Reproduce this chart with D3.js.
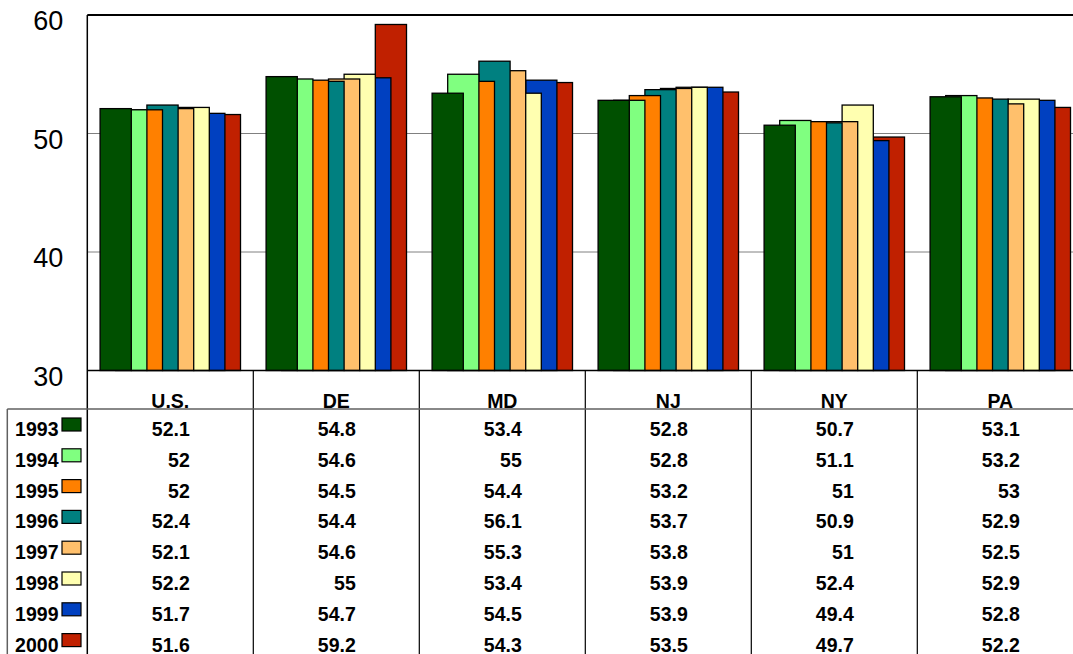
<html>
  <head>
    <meta charset="utf-8">
    <script src="https://d3js.org/d3.v7.min.js"></script>
    <style type="text/css">
      body { margin: 0; background: #fff; }
      svg text { font-family: Arial, "Liberation Sans", sans-serif; fill: #000; }
    </style>
  </head>
  <body>
    <svg id="chart" width="1073" height="654"></svg>
    <script>
      // data
      var states = ["U.S.", "DE", "MD", "NJ", "NY", "PA"];
      var years = ["1993", "1994", "1995", "1996", "1997", "1998", "1999", "2000"];
      var yearColors = ["#005000", "#80ff80", "#ff8000", "#008080", "#ffc06c", "#ffffb0", "#0040c0", "#c02000"];
      var v1993 = [52.1, 54.8, 53.4, 52.8, 50.7, 53.1];
      var v1994 = [52, 54.6, 55, 52.8, 51.1, 53.2];
      var v1995 = [52, 54.5, 54.4, 53.2, 51, 53];
      var v1996 = [52.4, 54.4, 56.1, 53.7, 50.9, 52.9];
      var v1997 = [52.1, 54.6, 55.3, 53.8, 51, 52.5];
      var v1998 = [52.2, 55, 53.4, 53.9, 52.4, 52.9];
      var v1999 = [51.7, 54.7, 54.5, 53.9, 49.4, 52.8];
      var v2000 = [51.6, 59.2, 54.3, 53.5, 49.7, 52.2];
      var yTicks = [30, 40, 50, 60];

      var series = [v1993, v1994, v1995, v1996, v1997, v1998, v1999, v2000];

      var W = 1073, H = 654;
      var plotL = 87.3, plotR = 1083.3, plotT = 15, plotB = 370.5;

      var svg = d3.select("#chart");

      var x = d3.scaleBand().domain(states).range([plotL, plotR]).padding(0);
      var y = d3.scaleLinear().domain([30, 60]).range([plotB, plotT]);

      // each bar is two "units" wide, overlapping the next by one unit
      var bw = x.bandwidth();
      var u = bw / (9 + 2 * 0.82);
      var gap = 0.82 * u;

      // gridlines
      svg.append("g").selectAll("line")
        .data([40, 50])
        .enter().append("line")
        .attr("x1", plotL).attr("x2", plotR)
        .attr("y1", function(d) { return y(d); })
        .attr("y2", function(d) { return y(d); })
        .attr("stroke", "#808080")
        .attr("stroke-width", 1);

      // bars: later years drawn first so earlier ones sit in front
      var barG = svg.append("g");
      for (var s = series.length - 1; s >= 0; s--) {
        barG.append("g").selectAll("rect")
          .data(series[s])
          .enter().append("rect")
          .attr("x", function(d, i) { return x(states[i]) + gap + s * u; })
          .attr("y", function(d) { return y(d); })
          .attr("width", 2 * u)
          .attr("height", function(d) { return y(30) - y(d); })
          .attr("fill", yearColors[s])
          .attr("stroke", "#000")
          .attr("stroke-width", 1.3);
      }

      // frame
      svg.append("line")
        .attr("x1", plotL).attr("x2", plotR).attr("y1", plotT).attr("y2", plotT)
        .attr("stroke", "#000").attr("stroke-width", 2);
      svg.append("line")
        .attr("x1", plotL).attr("x2", plotR).attr("y1", plotB).attr("y2", plotB)
        .attr("stroke", "#000").attr("stroke-width", 1.5);
      svg.append("line")
        .attr("x1", plotL).attr("x2", plotL).attr("y1", plotT).attr("y2", H)
        .attr("stroke", "#000").attr("stroke-width", 1.5);

      // y axis labels
      var yAxis = svg.append("g")
        .attr("transform", "translate(" + plotL + ",0)")
        .call(d3.axisLeft(y).tickValues(yTicks).tickSize(0).tickPadding(24));
      yAxis.select(".domain").remove();
      yAxis.selectAll("text")
        .attr("dy", "0.54em")
        .style("font-size", "27px")
        .style("font-family", "Arial, 'Liberation Sans', sans-serif");

      // data table
      var rowBase = 436, rowStep = 30.8, headerLine = 409, tableLeft = 7.3;

      svg.append("g").selectAll("line")
        .data(states.slice(1))
        .enter().append("line")
        .attr("x1", function(d) { return x(d); })
        .attr("x2", function(d) { return x(d); })
        .attr("y1", plotB).attr("y2", H)
        .attr("stroke", "#000").attr("stroke-width", 1.2);

      svg.append("line")
        .attr("x1", tableLeft).attr("x2", plotR).attr("y1", headerLine).attr("y2", headerLine)
        .attr("stroke", "#606060").attr("stroke-width", 1.5);
      svg.append("line")
        .attr("x1", tableLeft).attr("x2", tableLeft).attr("y1", headerLine).attr("y2", H)
        .attr("stroke", "#606060").attr("stroke-width", 1.5);

      svg.append("g").selectAll("text")
        .data(states)
        .enter().append("text")
        .attr("x", function(d) { return x(d) + bw / 2; })
        .attr("y", 408)
        .attr("text-anchor", "middle")
        .style("font-size", "19.5px")
        .style("font-weight", "bold")
        .text(function(d) { return d; });

      var rows = svg.append("g").selectAll("g")
        .data(years)
        .enter().append("g");

      rows.append("text")
        .attr("x", 58.5)
        .attr("y", function(d, i) { return rowBase + i * rowStep; })
        .attr("text-anchor", "end")
        .style("font-size", "19.5px")
        .style("font-weight", "bold")
        .text(function(d) { return d; });

      rows.append("rect")
        .attr("x", 62)
        .attr("y", function(d, i) { return rowBase + i * rowStep - 18; })
        .attr("width", 19)
        .attr("height", 13)
        .attr("fill", function(d, i) { return yearColors[i]; })
        .attr("stroke", "#000")
        .attr("stroke-width", 1.2);

      rows.each(function(yr, i) {
        d3.select(this).selectAll("text.val")
          .data(series[i])
          .enter().append("text")
          .attr("class", "val")
          .attr("x", function(d, j) { return x(states[j]) + bw / 2 + 19.5; })
          .attr("y", rowBase + i * rowStep)
          .attr("text-anchor", "end")
          .style("font-size", "19.5px")
          .style("font-weight", "bold")
          .text(function(d) { return d; });
      });
    </script>
  </body>
</html>
